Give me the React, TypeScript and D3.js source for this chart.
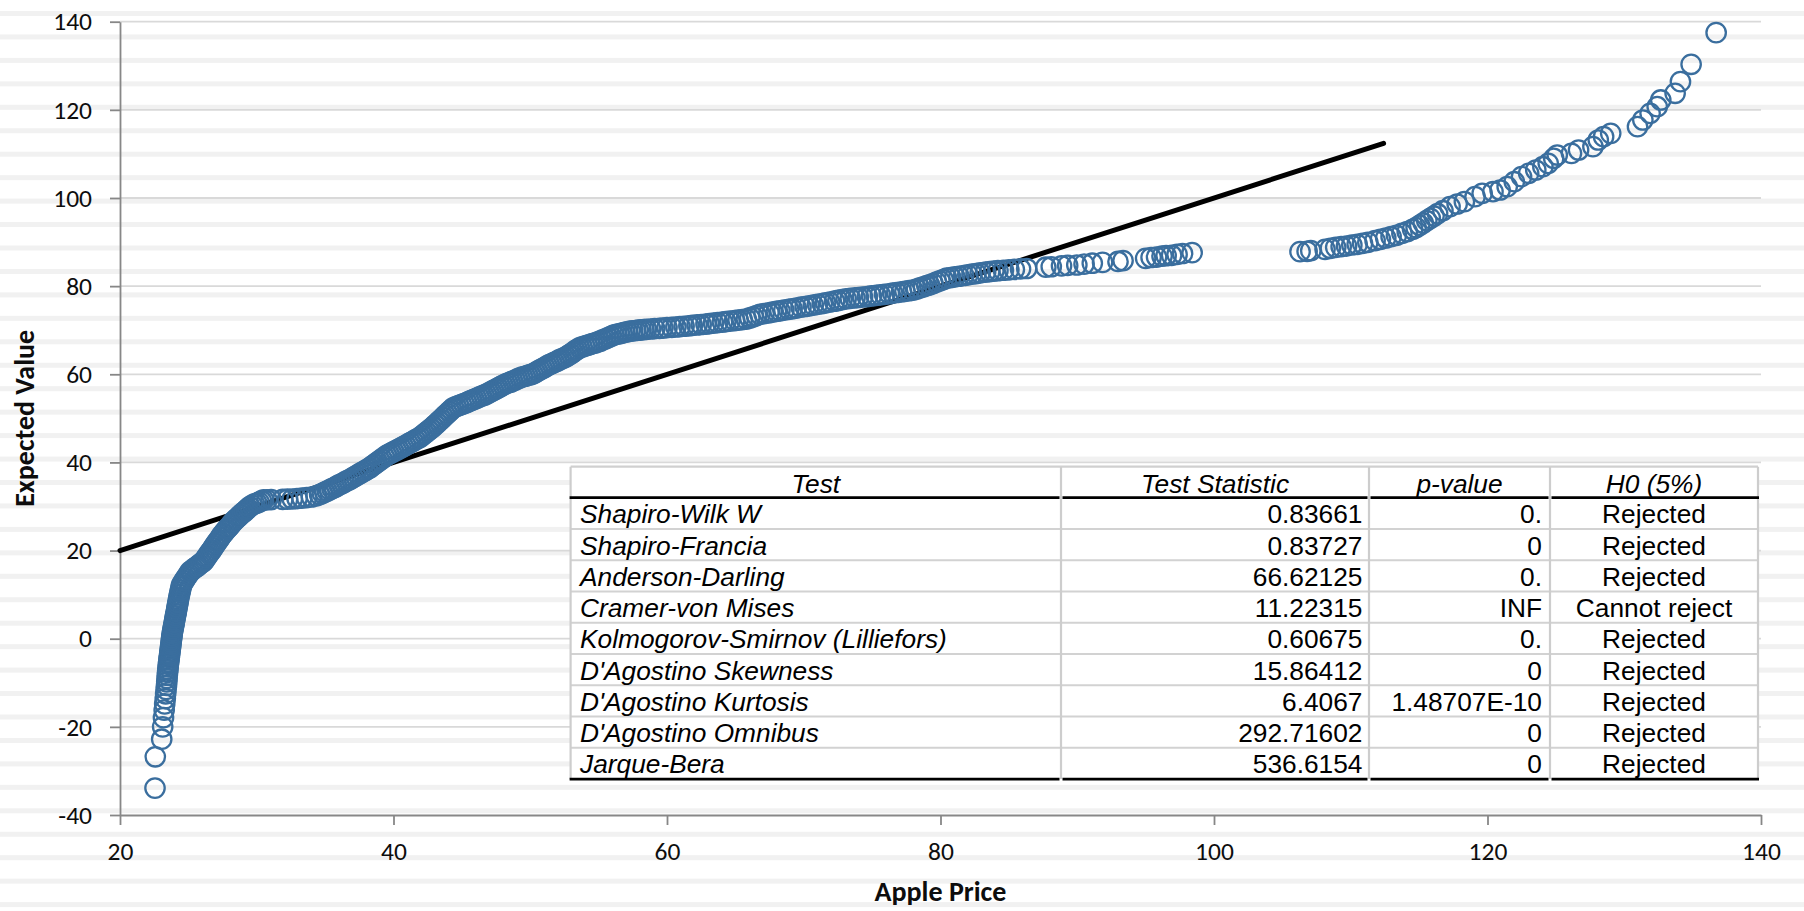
import React, { useEffect, useRef } from "react";
import * as d3 from "d3";

// ---- canvas ----
const W = 1804;
const H = 911;

// ---- axes ----
const xDomain: [number, number] = [20, 140];
const yDomain: [number, number] = [-40, 140];
const xTicks = [20, 40, 60, 80, 100, 120, 140];
const yTicks = [-40, -20, 0, 20, 40, 60, 80, 100, 120, 140];
const xTitle = "Apple Price";
const yTitle = "Expected Value";

// ---- reference line (y = x) ----
const refLine: [number, number][] = [
  [20, 20],
  [112.4, 112.4],
];

// ---- sorted prices vs. expected normal values ----
const lowerTail: [number, number][] = [
  [22.56, -33.9], [22.58, -26.8], [23.05, -22.8], [23.12, -20.0], [23.18, -17.9],
  [23.23, -16.2], [23.27, -14.8], [23.31, -13.6], [23.34, -12.5], [23.37, -11.5],
  [23.4, -10.6], [23.42, -9.8], [23.44, -9.0], [23.46, -8.3], [23.48, -7.6],
  [23.5, -7.0], [23.52, -6.4], [23.54, -5.8], [23.56, -5.3], [23.58, -4.8],
  [23.6, -4.3], [23.62, -3.8], [23.64, -3.3], [23.66, -2.8], [23.68, -2.3],
  [23.7, -1.8], [23.72, -1.3], [23.74, -0.8], [23.76, -0.3], [23.78, 0.2],
  [23.8, 0.7], [23.82, 1.2], [23.85, 1.7], [23.88, 2.2], [23.91, 2.7],
  [23.94, 3.2], [23.97, 3.7], [24.0, 4.2], [24.03, 4.7], [24.06, 5.2],
  [24.09, 5.7], [24.12, 6.2], [24.15, 6.7], [24.18, 7.2], [24.21, 7.7],
  [24.24, 8.2], [24.27, 8.8],
];

const lowerBend: [number, number][] = [
  [24.31, 9.4], [24.35, 10.0], [24.39, 10.6], [24.43, 11.1], [24.47, 11.7], [24.5, 12.2],
  [24.6, 12.7], [24.7, 13.2], [24.8, 13.7], [24.91, 14.2], [25.02, 14.7], [25.12, 15.2],
  [25.26, 15.5], [25.4, 15.9], [25.54, 16.2], [25.68, 16.5], [25.82, 16.9], [25.96, 17.2],
  [26.1, 17.5], [26.2, 17.9], [26.3, 18.4], [26.4, 18.8], [26.5, 19.3], [26.6, 19.7],
  [26.7, 20.1], [26.8, 20.6], [26.91, 21.1], [27.02, 21.6], [27.13, 22.1], [27.23, 22.5],
  [27.34, 23.0], [27.44, 23.5], [27.56, 23.9], [27.68, 24.4], [27.8, 24.8], [27.92, 25.2],
  [28.04, 25.6], [28.16, 26.1], [28.28, 26.5], [28.4, 26.9], [28.54, 27.3], [28.68, 27.7],
  [28.81, 28.1], [28.95, 28.5], [29.09, 28.8], [29.22, 29.2], [29.36, 29.6], [29.5, 30.0],
  [29.67, 30.3], [29.84, 30.6], [30.0, 30.8], [30.17, 31.0], [30.34, 31.3], [30.5, 31.5],
];

const plateau: [number, number][] = [
  [30.75, 31.5], [31.05, 31.55], [31.9, 31.6], [32.25, 31.65], [32.6, 31.7],
  [32.95, 31.8], [33.3, 31.9], [33.65, 32.0], [34.0, 32.15], [34.35, 32.4],
  [34.6, 32.7],
];

const middleBand: [number, number][] = [
  [34.8, 33.0], [34.98, 33.25], [35.15, 33.5], [35.33, 33.8], [35.5, 34.05], [35.68, 34.3], [35.85, 34.6],
  [36.02, 34.9], [36.2, 35.15], [36.37, 35.45], [36.54, 35.75], [36.72, 36.0], [36.89, 36.3], [37.06, 36.6],
  [37.23, 36.9], [37.41, 37.25], [37.58, 37.55], [37.76, 37.85], [37.93, 38.15], [38.1, 38.5], [38.28, 38.8],
  [38.45, 39.2], [38.63, 39.6], [38.8, 40.0], [38.98, 40.4], [39.15, 40.8], [39.33, 41.2], [39.5, 41.6],
  [39.67, 41.9], [39.85, 42.15], [40.02, 42.45], [40.2, 42.75], [40.37, 43.0], [40.55, 43.3], [40.72, 43.6],
  [40.89, 43.9], [41.07, 44.2], [41.24, 44.5], [41.42, 44.8], [41.59, 45.1], [41.77, 45.4], [41.94, 45.7],
  [42.1, 46.1], [42.26, 46.5], [42.42, 46.9], [42.58, 47.3], [42.74, 47.7], [42.9, 48.1],
  [43.05, 48.55], [43.2, 48.95], [43.34, 49.4], [43.49, 49.8], [43.64, 50.25], [43.78, 50.7],
  [43.93, 51.1], [44.08, 51.55], [44.22, 51.95], [44.37, 52.4],
  [44.57, 52.65], [44.76, 52.9], [44.96, 53.1], [45.15, 53.35], [45.35, 53.6],
  [45.53, 53.85], [45.71, 54.1], [45.89, 54.3], [46.07, 54.55], [46.26, 54.8], [46.44, 55.05], [46.62, 55.25], [46.8, 55.5],
  [46.97, 55.8], [47.14, 56.05], [47.31, 56.35], [47.49, 56.65], [47.66, 56.9], [47.83, 57.2], [48.0, 57.5],
  [48.18, 57.75], [48.36, 58.0], [48.54, 58.2], [48.71, 58.45], [48.89, 58.7], [49.07, 58.95], [49.25, 59.2],
  [49.44, 59.4], [49.63, 59.55], [49.82, 59.75], [50.01, 59.9], [50.2, 60.1],
  [50.37, 60.4], [50.54, 60.7], [50.71, 61.0], [50.89, 61.3], [51.06, 61.6], [51.23, 61.9], [51.4, 62.2],
  [51.58, 62.45], [51.76, 62.7], [51.94, 62.95], [52.11, 63.25], [52.29, 63.5], [52.47, 63.75], [52.65, 64.0],
  [52.81, 64.35], [52.97, 64.65], [53.13, 65.0], [53.28, 65.35], [53.44, 65.65], [53.6, 66.0],
  [53.79, 66.2], [53.98, 66.4], [54.16, 66.55], [54.35, 66.75], [54.54, 66.95], [54.73, 67.1], [54.91, 67.3], [55.1, 67.5],
  [55.3, 67.8], [55.5, 68.05], [55.7, 68.35], [55.9, 68.6], [56.1, 68.9],
  [56.3, 69.05], [56.5, 69.2], [56.7, 69.35], [56.9, 69.5], [57.1, 69.65], [57.3, 69.8],
  [57.5, 69.87], [57.7, 69.93], [57.9, 70.0], [58.1, 70.07], [58.3, 70.13], [58.5, 70.2],
];

const upperBand: [number, number][] = [
  [58.8, 70.27], [59.1, 70.35], [59.45, 70.42], [59.7, 70.49], [60.0, 70.57], [60.35, 70.64], [60.65, 70.73], [60.95, 70.8],
  [61.25, 70.9], [61.6, 71.0], [61.85, 71.09], [62.2, 71.19], [62.5, 71.29], [62.85, 71.4], [63.1, 71.5], [63.4, 71.6],
  [63.7, 71.71], [64.05, 71.83], [64.3, 71.94], [64.6, 72.05], [64.95, 72.16], [65.2, 72.28], [65.5, 72.39], [65.8, 72.5],
  [66.05, 72.78], [66.3, 73.05], [66.55, 73.33], [66.8, 73.6],
  [67.1, 73.76], [67.45, 73.93], [67.7, 74.09], [68.0, 74.26], [68.26, 74.4],
  [68.55, 74.55], [68.9, 74.71], [69.15, 74.87], [69.45, 75.03], [69.8, 75.22], [70.1, 75.38], [70.4, 75.54], [70.7, 75.7],
  [71.0, 75.88], [71.35, 76.05], [71.6, 76.23], [71.9, 76.4], [72.25, 76.58], [72.5, 76.75], [72.8, 76.93], [73.1, 77.1],
  [73.4, 77.21], [73.75, 77.32], [74.0, 77.42], [74.3, 77.53], [74.65, 77.64], [74.95, 77.77], [75.3, 77.89], [75.6, 78.0],
  [75.9, 78.14], [76.25, 78.27], [76.5, 78.41], [76.8, 78.55], [77.15, 78.69], [77.4, 78.83], [77.7, 78.96], [78.0, 79.1],
  [78.25, 79.35], [78.5, 79.6], [78.75, 79.85], [79.0, 80.1], [79.2, 80.3],
  [79.45, 80.6], [79.7, 80.9], [79.95, 81.2], [80.2, 81.5], [80.45, 81.8],
  [80.75, 81.95], [81.05, 82.09], [81.35, 82.24], [81.7, 82.41], [82.0, 82.56], [82.3, 82.71], [82.6, 82.85], [82.9, 83.0],
];

const shoulder: [number, number][] = [
  [83.3, 83.2], [83.6, 83.3], [83.9, 83.4], [84.2, 83.5], [84.6, 83.6], [85.0, 83.7], [85.4, 83.8],
  [85.85, 83.9], [86.3, 84.0], [87.7, 84.3], [88.1, 84.4], [88.85, 84.6], [89.3, 84.7], [89.97, 84.8],
  [90.5, 85.0], [91.1, 85.2], [91.85, 85.4], [92.98, 85.6], [93.35, 85.8], [95.0, 86.3], [95.4, 86.5],
  [95.8, 86.6], [96.2, 86.8], [96.5, 86.9], [96.9, 87.0], [97.3, 87.2], [97.7, 87.4], [98.4, 87.6],
];

const upperTail: [number, number][] = [
  [106.29, 87.82], [106.81, 87.9], [107.08, 88.05], [108.12, 88.35], [108.51, 88.58],
  [108.9, 88.8], [109.3, 88.95], [109.69, 89.1], [110.08, 89.33], [110.47, 89.48],
  [110.86, 89.71], [111.25, 89.94], [111.78, 90.31], [112.17, 90.62], [112.56, 90.92],
  [112.95, 91.22], [113.34, 91.53], [113.74, 91.98], [114.13, 92.36], [114.52, 92.89],
  [114.78, 93.27], [115.04, 93.8], [115.3, 94.33], [115.56, 94.85], [115.82, 95.38],
  [116.09, 95.91], [116.35, 96.44], [116.74, 97.12], [117.26, 98.03], [117.78, 98.64],
  [118.31, 99.17], [119.09, 100.3], [119.61, 101.06], [120.4, 101.43], [120.92, 101.81],
  [121.44, 102.57], [121.96, 103.7], [122.49, 104.84], [123.01, 105.6], [123.53, 106.35],
  [124.05, 107.1], [124.44, 107.86], [124.84, 109.0], [125.1, 109.75], [126.14, 110.13],
  [126.66, 110.89], [127.71, 111.65], [128.1, 113.16], [128.49, 113.92], [129.01, 114.67],
  [130.97, 116.19], [131.36, 117.7], [131.89, 119.21], [132.41, 120.72], [132.67, 122.24],
  [133.72, 123.75], [134.11, 126.4], [134.89, 130.33], [136.72, 137.52],
];

// ---- normality test table ----
const tableHeaders = ["Test", "Test Statistic", "p-value", "H0 (5%)"];
const testNames = [
  "Shapiro-Wilk W",
  "Shapiro-Francia",
  "Anderson-Darling",
  "Cramer-von Mises",
  "Kolmogorov-Smirnov (Lilliefors)",
  "D'Agostino Skewness",
  "D'Agostino Kurtosis",
  "D'Agostino Omnibus",
  "Jarque-Bera",
];
const testStatistics = [
  "0.83661", "0.83727", "66.62125", "11.22315", "0.60675",
  "15.86412", "6.4067", "292.71602", "536.6154",
];
const pValues = ["0.", "0", "0.", "INF", "0.", "0", "1.48707E-10", "0", "0"];
const decisions = [
  "Rejected", "Rejected", "Rejected", "Cannot reject", "Rejected",
  "Rejected", "Rejected", "Rejected", "Rejected",
];

// ---- styling ----
const POINT_COLOR = "#3a6e9e";
const AXIS_COLOR = "#878787";
const GRID_COLOR = "#d9d9d9";
const LABEL_FONT = "Carlito, Calibri, Lato, 'Noto Sans', sans-serif";
const TABLE_FONT = "'Liberation Sans', Arial, Helvetica, sans-serif";

export default function App() {
  const ref = useRef<SVGSVGElement | null>(null);

  useEffect(() => {
    const svg = d3.select(ref.current);
    svg.selectAll("*").remove();

    const plot = { left: 120, right: 1761, top: 21.7, bottom: 815 };
    const x = d3.scaleLinear().domain(xDomain).range([plot.left, plot.right]);
    const y = d3.scaleLinear().domain(yDomain).range([plot.bottom, plot.top]);

    // light horizontal banding of the background
    const bandStep = 23.45;
    svg
      .append("g")
      .selectAll("rect")
      .data(d3.range(0, Math.ceil(H / bandStep) + 1))
      .join("rect")
      .attr("x", 0)
      .attr("width", W)
      .attr("y", (i) => 11 + i * bandStep)
      .attr("height", 5)
      .attr("fill", "#f1f1f1");

    // horizontal gridlines
    svg
      .append("g")
      .selectAll("line")
      .data(yTicks.filter((t) => t !== yDomain[0]))
      .join("line")
      .attr("x1", plot.left)
      .attr("x2", plot.right)
      .attr("y1", (d) => y(d))
      .attr("y2", (d) => y(d))
      .attr("stroke", GRID_COLOR)
      .attr("stroke-width", 1.8);

    // axes
    const yAxis = d3
      .axisLeft(y)
      .tickValues(yTicks)
      .tickSize(10)
      .tickSizeOuter(0)
      .tickPadding(18)
      .tickFormat((d) => String(d));
    const xAxis = d3
      .axisBottom(x)
      .tickValues(xTicks)
      .tickSize(10)
      .tickSizeOuter(0)
      .tickPadding(17)
      .tickFormat((d) => String(d));

    const gy = svg.append("g").attr("transform", `translate(${plot.left},0)`).call(yAxis);
    const gx = svg.append("g").attr("transform", `translate(0,${plot.bottom})`).call(xAxis);
    [gx, gy].forEach((g) => {
      g.attr("font-family", LABEL_FONT).attr("font-size", 25.5);
      g.select(".domain").attr("stroke", AXIS_COLOR).attr("stroke-width", 1.8);
      g.selectAll(".tick line").attr("stroke", AXIS_COLOR).attr("stroke-width", 1.8);
      g.selectAll(".tick text").attr("fill", "#0d0d0d");
    });

    // reference line
    const line = d3
      .line<[number, number]>()
      .x((d) => x(d[0]))
      .y((d) => y(d[1]));
    svg
      .append("path")
      .attr("d", line(refLine) ?? "")
      .attr("fill", "none")
      .attr("stroke", "#000")
      .attr("stroke-width", 5)
      .attr("stroke-linecap", "round");

    // Q-Q points
    const points = [
      ...lowerTail,
      ...lowerBend,
      ...plateau,
      ...middleBand,
      ...upperBand,
      ...shoulder,
      ...upperTail,
    ];
    svg
      .append("g")
      .selectAll("circle")
      .data(points)
      .join("circle")
      .attr("cx", (d) => x(d[0]))
      .attr("cy", (d) => y(d[1]))
      .attr("r", 9.7)
      .attr("fill", "none")
      .attr("stroke", POINT_COLOR)
      .attr("stroke-width", 2.3);

    // axis titles
    svg
      .append("text")
      .attr("x", (plot.left + plot.right) / 2)
      .attr("y", 901)
      .attr("text-anchor", "middle")
      .attr("font-family", LABEL_FONT)
      .attr("font-weight", 700)
      .attr("font-size", 28)
      .attr("fill", "#0d0d0d")
      .text(xTitle);
    svg
      .append("text")
      .attr("transform", `translate(34,${(plot.top + plot.bottom) / 2}) rotate(-90)`)
      .attr("text-anchor", "middle")
      .attr("font-family", LABEL_FONT)
      .attr("font-weight", 700)
      .attr("font-size", 28)
      .attr("fill", "#0d0d0d")
      .text(yTitle);

    // statistics table
    const cols = [570.6, 1061, 1369, 1550, 1758];
    const top = 466.7;
    const headH = 31;
    const rowH = 31.26;
    const bottom = top + headH + rowH * testNames.length;
    const tbl = svg.append("g").attr("font-family", TABLE_FONT).attr("font-size", 26.3).attr("fill", "#000");

    tbl
      .append("rect")
      .attr("x", cols[0])
      .attr("y", top)
      .attr("width", cols[4] - cols[0])
      .attr("height", bottom - top)
      .attr("fill", "#fff");

    // row separators
    tbl
      .append("g")
      .selectAll("line")
      .data(d3.range(1, testNames.length))
      .join("line")
      .attr("x1", cols[0])
      .attr("x2", cols[4])
      .attr("y1", (i) => top + headH + i * rowH)
      .attr("y2", (i) => top + headH + i * rowH)
      .attr("stroke", "#d2d2d2")
      .attr("stroke-width", 2);

    // top border
    tbl
      .append("line")
      .attr("x1", cols[0])
      .attr("x2", cols[4])
      .attr("y1", top)
      .attr("y2", top)
      .attr("stroke", "#d0d0d0")
      .attr("stroke-width", 2.2);

    // column borders
    tbl
      .append("g")
      .selectAll("line")
      .data(cols)
      .join("line")
      .attr("x1", (d) => d)
      .attr("x2", (d) => d)
      .attr("y1", top)
      .attr("y2", bottom)
      .attr("stroke", "#cdcdcd")
      .attr("stroke-width", 2.2);

    // header rule and closing rule
    const spans = d3.pairs(cols);
    [top + headH, bottom].forEach((yy) => {
      tbl
        .append("g")
        .selectAll("line")
        .data(spans)
        .join("line")
        .attr("x1", (d, i) => (i === 0 ? d[0] - 1 : d[0] + 1.5))
        .attr("x2", (d, i) => (i === spans.length - 1 ? d[1] + 1 : d[1] - 1.5))
        .attr("y1", yy)
        .attr("y2", yy)
        .attr("stroke", "#000")
        .attr("stroke-width", 2.7);
    });

    // header text
    tbl
      .append("g")
      .selectAll("text")
      .data(tableHeaders)
      .join("text")
      .attr("x", (_, i) => (cols[i] + cols[i + 1]) / 2)
      .attr("y", top + 25.8)
      .attr("text-anchor", "middle")
      .attr("font-style", "italic")
      .text((d) => d);

    const rowBase = (i: number) => top + headH + i * rowH + 25.6;

    tbl
      .append("g")
      .selectAll("text")
      .data(testNames)
      .join("text")
      .attr("x", cols[0] + 9.4)
      .attr("y", (_, i) => rowBase(i))
      .attr("font-style", "italic")
      .text((d) => d);

    tbl
      .append("g")
      .selectAll("text")
      .data(testStatistics)
      .join("text")
      .attr("x", cols[2] - 6.5)
      .attr("y", (_, i) => rowBase(i))
      .attr("text-anchor", "end")
      .text((d) => d);

    tbl
      .append("g")
      .selectAll("text")
      .data(pValues)
      .join("text")
      .attr("x", cols[3] - 8)
      .attr("y", (_, i) => rowBase(i))
      .attr("text-anchor", "end")
      .text((d) => d);

    tbl
      .append("g")
      .selectAll("text")
      .data(decisions)
      .join("text")
      .attr("x", (cols[3] + cols[4]) / 2)
      .attr("y", (_, i) => rowBase(i))
      .attr("text-anchor", "middle")
      .text((d) => d);
  }, []);

  return (
    <>
      <style>{`html,body{margin:0;padding:0;overflow:hidden;background:#fff}`}</style>
      <svg ref={ref} width={W} height={H} style={{ display: "block" }} />
    </>
  );
}
